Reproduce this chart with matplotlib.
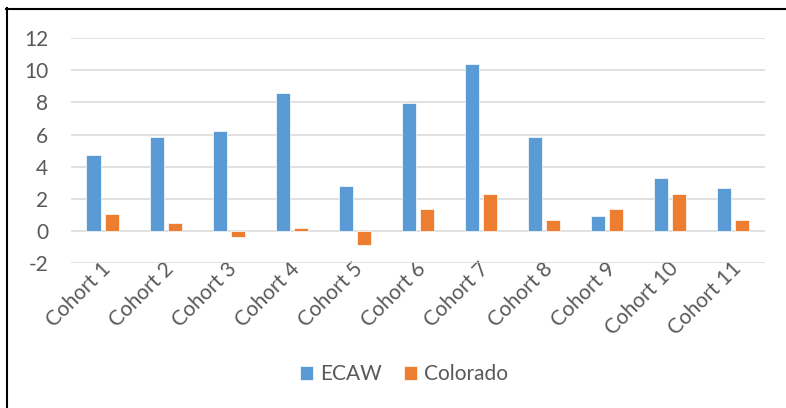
import numpy as np
import matplotlib
matplotlib.use('Agg')
import matplotlib.pyplot as plt
import matplotlib.transforms as mtransforms
from matplotlib.lines import Line2D

# data
cohorts = ['Cohort 1', 'Cohort 2', 'Cohort 3', 'Cohort 4', 'Cohort 5', 'Cohort 6',
           'Cohort 7', 'Cohort 8', 'Cohort 9', 'Cohort 10', 'Cohort 11']
ecaw = [4.75, 5.87, 6.24, 8.6, 2.78, 7.96, 10.4, 5.85, 0.96, 3.28, 2.66]
colorado = [1.09, 0.53, -0.37, 0.22, -0.88, 1.38, 2.31, 0.73, 1.4, 2.31, 0.73]
y_ticks = [-2, 0, 2, 4, 6, 8, 10, 12]

blue = '#5B9BD5'
orange = '#ED7D31'
txt = '#595959'
grid = '#D9D9D9'
fs = 15

plt.rcParams['font.family'] = ['Lato', 'DejaVu Sans']

fig = plt.figure(figsize=(7.86, 4.08), dpi=100)
ax = fig.add_axes([0.0903, 0.3542, 0.883, 0.5527])

x = np.arange(len(cohorts))
w = 0.222
ax.bar(x - 0.143, ecaw, w, color=blue, edgecolor='white', linewidth=0.5, label='ECAW', zorder=3)
ax.bar(x + 0.143, colorado, w, color=orange, edgecolor='white', linewidth=0.5, label='Colorado', zorder=3)

ax.set_xlim(-0.5, len(cohorts) - 0.5)
ax.set_ylim(-2, 12)
ax.set_yticks(y_ticks)
ax.set_yticklabels([str(t) for t in y_ticks])
ax.yaxis.grid(True, color=grid, linewidth=1.1, zorder=0)
ax.set_axisbelow(True)
for s in ax.spines.values():
    s.set_visible(False)

ax.tick_params(axis='y', length=0, pad=16.5, labelsize=fs, labelcolor=txt)
ax.tick_params(axis='x', length=0, pad=1.5, labelsize=fs, labelcolor=txt)
ax.set_xticks(x)
ax.set_xticklabels(cohorts, rotation=45, ha='right', va='center', rotation_mode='anchor')
shift = mtransforms.ScaledTranslation(5 / 100, 0, fig.dpi_scale_trans)
for lab in ax.get_xticklabels():
    lab.set_transform(lab.get_transform() + shift)

fig.legend(loc='center', bbox_to_anchor=(404 / 786, 0.083), ncol=2, frameon=False,
           fontsize=fs, labelcolor=txt, handlelength=0.62, handleheight=0.62,
           handletextpad=0.34, columnspacing=1.06)

# black frame on the left and top of the picture
fig.add_artist(Line2D([7 / 786, 7 / 786], [0, 1 - 8 / 408], transform=fig.transFigure,
                      color='black', linewidth=1.5))
fig.add_artist(Line2D([6 / 786, 1], [1 - 9 / 408, 1 - 9 / 408], transform=fig.transFigure,
                      color='black', linewidth=1.5))

fig.savefig('out.png', dpi=100, facecolor='white')
